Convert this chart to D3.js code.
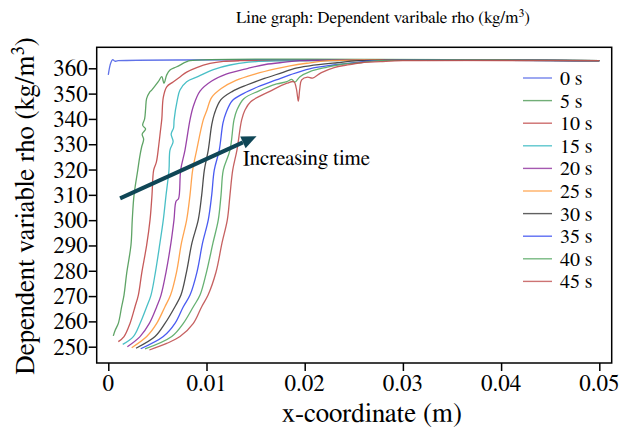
<!DOCTYPE html>
<html>
<head>
<meta charset="utf-8">
<script src="https://cdn.jsdelivr.net/npm/d3@7"></script>
<style>
  body { margin: 0; background: #fff; }
  .axis path.domain { display: none; }
  .axis line { stroke: #000; stroke-width: 1.5; }
</style>
</head>
<body>
<div class="canvas"></div>
<script>
// labels + colours
var seriesNames = ['0 s', '5 s', '10 s', '15 s', '20 s', '25 s', '30 s', '35 s', '40 s', '45 s'];
var seriesColours = ['#4f63e6', '#4e9a55', '#c04848', '#35b8c0', '#8e2f9e', '#ff9a3c', '#3a3a3a', '#3549f0', '#55a863', '#c05050'];
var xTicks = [0, 0.01, 0.02, 0.03, 0.04, 0.05];
var yTicks = [250, 260, 270, 280, 290, 300, 310, 320, 330, 340, 350, 360];

// [x (m), rho (kg/m3)]
var s0 = [[0.0, 357.4], [0.00024, 362], [0.00045, 363.4], [0.00068, 362.8], [0.001, 363], [0.05, 363]];
var s5 = [[0.00051, 254.3], [0.0007, 256.5], [0.00102, 259.2], [0.00136, 265.8], [0.0016, 270.4], [0.00187, 279.0],
  [0.00231, 290.2], [0.00244, 300.1], [0.00262, 309.9], [0.003, 319.8], [0.0032, 325], [0.0034, 329], [0.0036, 332],
  [0.00345, 334], [0.0038, 336], [0.0035, 337.5], [0.0037, 340], [0.0038, 344], [0.0039, 348], [0.0042, 350.5],
  [0.00442, 351.4], [0.00509, 354.7], [0.00544, 356.7], [0.00567, 354.1], [0.00595, 357.4], [0.00628, 359.3],
  [0.00697, 360.6], [0.00798, 362.6], [0.00832, 363], [0.05, 363]];
var s10 = [[0.00102, 252.0], [0.0016, 254.0], [0.00221, 259.2], [0.00272, 265.8], [0.00306, 270.4], [0.0034, 279.0],
  [0.00391, 290.2], [0.00425, 300.1], [0.00445, 309.9], [0.00462, 319.8], [0.0049, 323], [0.00515, 330], [0.0053, 335],
  [0.00545, 340], [0.0056, 348.5], [0.00595, 352.7], [0.0066, 354.6], [0.0073, 356.6], [0.00798, 358.5], [0.009, 360.3],
  [0.01036, 361.9], [0.01171, 362.7], [0.0134, 363], [0.05, 363]];
var s15 = [[0.00147, 250.9], [0.00255, 254.0], [0.00323, 259.2], [0.00391, 265.8], [0.00435, 270.4], [0.0048, 279.5],
  [0.00526, 291], [0.0056, 300.1], [0.00588, 309.9], [0.00618, 319.8], [0.00628, 327.7], [0.0066, 331], [0.0064, 334],
  [0.00665, 336.5], [0.0067, 339.5], [0.00703, 347.5], [0.0073, 351.4], [0.00798, 354.7], [0.00917, 356.8],
  [0.0107, 359.5], [0.0124, 361.3], [0.0143, 362.4], [0.017, 362.9], [0.05, 363]];
var s20 = [[0.00194, 250.0], [0.00323, 254.0], [0.00418, 259.2], [0.00493, 265.8], [0.00537, 270.4], [0.00588, 279.5],
  [0.00638, 291], [0.00669, 300.1], [0.0069, 307.5], [0.00715, 308.5], [0.00737, 319.8], [0.00781, 327.7],
  [0.00832, 339.6], [0.00866, 345], [0.00934, 351], [0.01053, 355], [0.012, 357.7], [0.01423, 360], [0.016, 361.5],
  [0.018, 362.4], [0.0195, 363], [0.05, 363]];
var s25 = [[0.00238, 249.6], [0.00391, 254.0], [0.00493, 259.2], [0.00577, 265.8], [0.00634, 270.4], [0.00695, 279.5],
  [0.00745, 291], [0.00798, 300.1], [0.00832, 309.9], [0.00859, 319.8], [0.009, 327.7], [0.00967, 339.6], [0.01, 343],
  [0.01053, 348.5], [0.0115, 352], [0.013, 355.2], [0.015, 357.8], [0.017, 359.8], [0.0185, 361], [0.0202, 362],
  [0.0225, 363], [0.05, 363]];
var s30 = [[0.00282, 249.4], [0.00476, 254.0], [0.00577, 259.2], [0.00679, 265.8], [0.0074, 270.4], [0.00796, 279.5],
  [0.00852, 291], [0.00916, 300.1], [0.00951, 309.9], [0.00978, 319.8], [0.01018, 327.7], [0.01053, 337.6],
  [0.0108, 342], [0.01145, 347.5], [0.0126, 350.8], [0.0141, 353.4], [0.0159, 356], [0.0178, 358.4], [0.019, 360],
  [0.0205, 361], [0.0233, 362.2], [0.0255, 363], [0.05, 363]];
var s35 = [[0.0033, 249.2], [0.0056, 254.0], [0.00679, 259.2], [0.00764, 265.8], [0.00832, 270.4], [0.00903, 279.5],
  [0.0096, 291], [0.01018, 300.1], [0.01053, 309.9], [0.01079, 319.8], [0.0113, 327.7], [0.01168, 338.4],
  [0.012, 342.5], [0.0126, 347.1], [0.01375, 350], [0.0153, 352.8], [0.0171, 355.4], [0.0185, 357.4], [0.0205, 359.8],
  [0.0229, 361.3], [0.025, 362.2], [0.027, 363], [0.05, 363]];
var s40 = [[0.00374, 249.1], [0.00646, 254.0], [0.00764, 259.2], [0.00866, 265.8], [0.00934, 270.4], [0.01, 279.5],
  [0.01066, 291], [0.0112, 300.1], [0.01148, 309.9], [0.01171, 319.8], [0.01239, 327.7], [0.0128, 339.6],
  [0.0131, 343.5], [0.0138, 348], [0.0153, 351], [0.01715, 353.8], [0.01817, 354.7], [0.01868, 355.6], [0.019, 354.5],
  [0.01952, 356.7], [0.02054, 358.7], [0.02224, 360.4], [0.02393, 361.7], [0.02563, 362.2], [0.0275, 363], [0.05, 363]];
var s45 = [[0.00418, 248.7], [0.00595, 251.3], [0.0073, 254.0], [0.00866, 259.2], [0.00951, 265.8], [0.01016, 270.4],
  [0.01097, 279.5], [0.01158, 291], [0.01212, 300.1], [0.01239, 309.9], [0.01267, 319.8], [0.0131, 327.7],
  [0.01358, 339.6], [0.01392, 343.5], [0.0145, 346.8], [0.0165, 351], [0.0182, 354.1], [0.0189, 354.7], [0.01915, 352],
  [0.01935, 347], [0.0195, 352], [0.01969, 355.4], [0.0203, 356.5], [0.0208, 356.1], [0.0217, 358.3], [0.023, 360.3],
  [0.02428, 361.3], [0.0258, 362.2], [0.0277, 362.6], [0.030, 363], [0.05, 363]];
var allSeries = [s0, s5, s10, s15, s20, s25, s30, s35, s40, s45];

// annotation arrow, in data units
var arrowFrom = [0.0012, 308.6];
var arrowTo = [0.0151, 333.2];
var arrowText = 'Increasing time';

var width = 623;
var height = 431;
var frame = { left: 96.7, right: 611.7, top: 47.3, bottom: 363 };
// FreeSerif is the closest Times look in this sandbox
var serif = 'FreeSerif, "Liberation Serif", "Times New Roman", serif';

var svg = d3.select('.canvas')
  .append('svg')
  .attr('width', width)
  .attr('height', height)
  .attr('font-family', serif);

var xscale = d3.scaleLinear().domain([0, 0.05]).range([108.3, 599.3]);
var yscale = d3.scaleLinear().domain([250, 360]).range([346.7, 68.3]);

function addText(parent, x, y, str, size, anchor, rot) {
  return parent.append('text')
    .attr('transform', 'translate(' + x + ',' + y + ')' + (rot ? ' rotate(' + rot + ')' : ''))
    .attr('font-family', serif)
    .attr('font-size', size)
    .attr('fill', '#000')
    .attr('text-anchor', anchor || 'start')
    .text(str);
}

// title
addText(svg, 383, 23, 'Line graph: Dependent varibale rho (kg/m³)', 17, 'middle');

// axes (ticks only, labels drawn below)
var yaxis = d3.axisLeft(yscale).tickValues(yTicks).tickSize(8).tickFormat('');
svg.append('g')
  .attr('class', 'axis')
  .attr('transform', 'translate(' + frame.left + ',0)')
  .call(yaxis);
yTicks.forEach(function(t) {
  addText(svg, frame.left - 9, yscale(t) + 8, String(t), 23, 'end');
});

var xaxis = d3.axisBottom(xscale).tickValues(xTicks).tickSize(8).tickFormat('');
svg.append('g')
  .attr('class', 'axis')
  .attr('transform', 'translate(0,' + frame.bottom + ')')
  .call(xaxis);
xTicks.forEach(function(t) {
  addText(svg, xscale(t), frame.bottom + 28, t === 0 ? '0' : d3.format('.2f')(t), 23, 'middle');
});

// lines
var line = d3.line()
  .x(function(d) { return xscale(d[0]); })
  .y(function(d) { return yscale(d[1]); })
  .curve(d3.curveCatmullRom.alpha(0.5));

svg.append('g')
  .selectAll('path')
  .data(allSeries)
  .enter()
  .append('path')
  .attr('d', line)
  .attr('fill', 'none')
  .attr('stroke', function(d, i) { return seriesColours[i]; })
  .attr('stroke-width', 1.3)
  .attr('stroke-opacity', 0.9);

// frame
svg.append('rect')
  .attr('x', frame.left)
  .attr('y', frame.top)
  .attr('width', frame.right - frame.left)
  .attr('height', frame.bottom - frame.top)
  .attr('fill', 'none')
  .attr('stroke', '#000')
  .attr('stroke-width', 1.5);

// legend
var legend = svg.append('g');
seriesNames.forEach(function(name, i) {
  var ly = 78 + i * 22.6;
  legend.append('line')
    .attr('x1', 523).attr('x2', 552)
    .attr('y1', ly).attr('y2', ly)
    .attr('stroke', seriesColours[i])
    .attr('stroke-width', 1.4)
    .attr('stroke-opacity', 0.8);
  addText(legend, 560, ly + 7, name, 20);
});

// arrow
var ax1 = xscale(arrowFrom[0]), ay1 = yscale(arrowFrom[1]);
var ax2 = xscale(arrowTo[0]), ay2 = yscale(arrowTo[1]);
var ang = Math.atan2(ay2 - ay1, ax2 - ax1);
var headLen = 15, headW = 6.5;
var bx = ax2 - headLen * Math.cos(ang), by = ay2 - headLen * Math.sin(ang);
svg.append('line')
  .attr('x1', ax1).attr('y1', ay1)
  .attr('x2', bx).attr('y2', by)
  .attr('stroke', '#0f4656')
  .attr('stroke-width', 4);
svg.append('polygon')
  .attr('points', [
    [ax2, ay2],
    [bx + headW * Math.sin(ang), by - headW * Math.cos(ang)],
    [bx - headW * Math.sin(ang), by + headW * Math.cos(ang)]
  ].map(function(p) { return p.join(','); }).join(' '))
  .attr('fill', '#0f4656');

addText(svg, 243, 165, arrowText, 21);

// axis titles
addText(svg, 372, 422, 'x-coordinate (m)', 27, 'middle');
addText(svg, 34, 206, 'Dependent variable rho (kg/m³)', 27, 'middle', -90);
</script>
</body>
</html>
